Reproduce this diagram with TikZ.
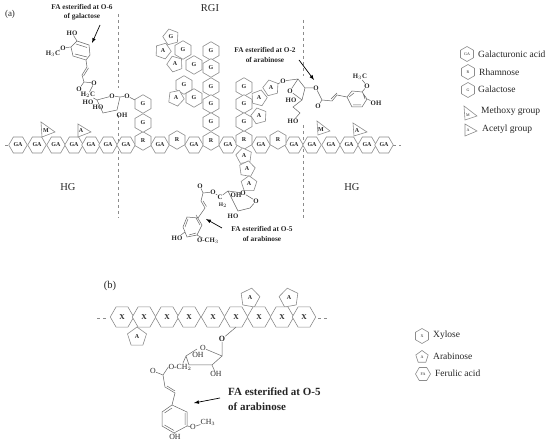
\documentclass[tikz,border=0pt]{standalone}
\usepackage{fontspec}
\setmainfont{Liberation Serif}
\usetikzlibrary{shapes.geometric}
\definecolor{ln}{gray}{0.55}
\definecolor{bd}{gray}{0.4}
\definecolor{tx}{gray}{0.15}
\tikzset{
 hexh/.style={regular polygon,regular polygon sides=6,draw=ln,fill=white,line width=.6pt,inner sep=0pt,outer sep=0pt,minimum size=18.5pt,font=\fontsize{6}{7}\selectfont\bfseries,text=tx},
 hexv/.style={hexh,shape border rotate=30},
 penta/.style={regular polygon,regular polygon sides=5,draw=ln,fill=white,line width=.6pt,inner sep=0pt,outer sep=0pt,minimum size=16.5pt,font=\fontsize{6}{7}\selectfont\bfseries,text=tx},
 xhex/.style={hexh,minimum size=23.5pt,font=\fontsize{7.5}{8}\selectfont\bfseries},
 bigpenta/.style={penta,minimum size=20pt},
 tri/.style={draw=ln,line width=.6pt,fill=white},
 bond/.style={draw=bd,line width=.5pt},
 chem/.style={inner sep=0pt,font=\fontsize{6.8}{7}\selectfont\bfseries,text=tx},
 chemb/.style={inner sep=0pt,font=\fontsize{7.8}{8}\selectfont,text=tx},
 lab/.style={inner sep=0pt,font=\fontsize{7.3}{9.2}\selectfont\bfseries,text=tx,align=center},
 big/.style={inner sep=0pt,font=\fontsize{10.5}{11}\selectfont,text=tx},
 leg/.style={inner sep=0pt,anchor=west,font=\fontsize{9.5}{10}\selectfont,text=tx},
 legsym/.style={minimum size=15pt,font=\fontsize{4}{5}\selectfont},
 arr/.style={draw=black,line width=.7pt,-latex},
 sep/.style={draw=ln,line width=.6pt,dashed},
}
\begin{document}
\begin{tikzpicture}[x=1pt,y=-1pt]
\useasboundingbox (0,0) rectangle (550,446);
% dashed borders
\coordinate (d1a) at (118,14); \coordinate (d1b) at (118,88);
\coordinate (d1c) at (118,115); \coordinate (d1d) at (118,218);
\coordinate (d2a) at (303,20); \coordinate (d2b) at (303,76);
\coordinate (d2c) at (303,125); \coordinate (d2d) at (303,218);
\draw[sep] (d1a)--(d1b) (d1c)--(d1d) (d2a)--(d2b) (d2c)--(d2d);
\coordinate (la) at (5,145); \coordinate (lb) at (9,145);
\coordinate (ra) at (393,145); \coordinate (rb) at (401,145);
\draw[sep] (la)--(lb) (ra)--(rb);
% GA backbone
\foreach \n/\x/\t in {a1/18/GA,a2/37/GA,a3/56/GA,a4/74/GA,a5/91/GA,a6/108/GA,a7/126/GA,a8/160/GA,a9/194/GA,a10/228/GA,a11/261/GA,a12/294/GA,a13/312/GA,a14/331/GA,a15/349/GA,a16/367/GA,a17/384/GA}
  \node[hexh] (\n) at (\x,145) {\t};
\foreach \n/\x/\y/\t in {r1/143/141/R,r2/177/140/R,r3/211/141/R,r4/244/140/R,r5/278/140/R,
 g1/143/104/G,g2/143/123/G,g3/211/51/G,g4/211/68/G,g5/211/87/G,g6/211/104/G,g7/211/122/G,
 g8/244/87/G,g9/244/104/G,g10/244/122/G,
 c1/183/50/G,c2/194/65/G,c3/184/85/G,c4/194/98/G}
  \node[hexv] (\n) at (\x,\y) {\t};
\foreach \n/\x/\y/\t/\r in {p1/171/37/G/15,p2/163/51/A/-20,p3/175/64/A/20,p4/176/98/A/-25,
 p5/271/88/A/15,p6/259/98/A/-15,p7/259/116/A/15,p8/244/156/A/10,p9/247/169/A/-10,p10/249/184/A/0}
  \node[penta,shape border rotate=\r] (\n) at (\x,\y) {\t};
% triangles
\draw[tri] (41,122)--(55,132)--(42,137)--cycle;
\draw[tri] (78,124)--(91,132)--(78,137)--cycle;
\draw[tri] (317,121)--(330,131)--(318,135)--cycle;
\draw[tri] (353,123)--(367,132)--(354,136)--cycle;
\node[chem,font=\fontsize{6}{7}\selectfont\bfseries] (tm1) at (46,131) {M};
\node[chem,font=\fontsize{6}{7}\selectfont\bfseries] (ta1) at (81,131) {A};
\node[chem,font=\fontsize{6}{7}\selectfont\bfseries] (tm2) at (321,130) {M};
\node[chem,font=\fontsize{6}{7}\selectfont\bfseries] (ta2) at (357,131) {A};
% FA left (O-6 galactose)
\node[chem] (l1) at (72,33) {HO};
\node[chem] (l2) at (63,48) {O};
\node[chem] (l3) at (53,54) {H$_3$C};
\node[chem] (l4) at (94,83) {O};
\node[chem] (l5) at (79,89) {O};
\node[chem] (l6) at (88,95) {H$_2$C};
\node[chem] (l7) at (88,102) {HO};
\node[chem] (l8) at (98,107) {HO};
\node[chem] (l9) at (112,96) {O};
\node[chem] (l10) at (122,115) {OH};
\node[chem] (l11) at (127,96) {O};
\draw[bond] (l1)--(77,41)--(89,45)--(90,55)--(86,60)--(73,56)--(71,47)--(77,41)
 (76,44)--(87,47.5) (87,57)--(75,54)
 (71,47)--(l2) (l2)--(l3)
 (86,60)--(87,67)--(82,75)--(84,82)--(l4) (84,82)--(l5) (88.5,68)--(83.5,76)
 (l4)--(l6) (l6)--(97,100)--(l9) (l9)--(120,97)--(117,110)--(103,113)--(97,100)
 (120,97)--(l11) (l11)--(g1);
% FA right (O-2 arabinose)
\node[chem] (n1) at (360,77) {H$_3$C};
\node[chem] (n2) at (367,86) {O};
\node[chem] (n3) at (376,103) {OH};
\node[chem] (n4) at (316,88) {O};
\node[chem] (n5) at (318,106) {O};
\node[chem] (n6) at (283,81) {O};
\node[chem] (n7) at (290,91) {O};
\node[chem] (n8) at (291,100) {HO};
\node[chem] (n9) at (293,121) {HO};
\draw[bond] (n1)--(n2) (n2)--(362,92)--(352,91)--(347,97)--(352,107)--(362,107)--(367,99)--(362,92)
 (354,93)--(349,97) (353,105)--(361,105) (363,93)--(365,99)
 (367,99)--(n3) (347,97)--(337,95)--(332,101)--(322,100)--(n4) (322,100)--(n5) (337,93)--(331,99)
 (n4)--(305,88)--(298,79)--(n6) (298,79)--(n7) (n7)--(302,100)--(305,88)
 (302,100)--(293,107)--(300,113)--(n9) (n6)--(p5);
% FA bottom (O-5 arabinose)
\node[chem] (b1) at (200,186) {O};
\node[chem] (b2) at (213,192) {O};
\node[chem] (b3) at (220,197) {C};
\node[chem,font=\fontsize{5.5}{6}\selectfont\bfseries] (b3b) at (223,205) {H$_2$};
\node[chem] (b4) at (236,195) {OH};
\node[chem] (b5) at (243,193) {O};
\node[chem] (b6) at (256,201) {O};
\node[chem] (b7) at (233,216) {HO};
\node[chem] (b8) at (177,238) {HO};
\node[chem] (b9) at (208,241) {O-CH$_3$};
\draw[bond] (b1)--(203,193)--(b2) (b2)--(b3) (b3)--(228,191)--(238,211)--(250,208)--(b6) (b6)--(b5)--(228,191)
 (203,193)--(201,201)--(205,208)--(198,218) (203,201)--(206.5,206.5)
 (198,218)--(187,217)--(183,227)--(187,237)--(197,235)--(202,225)--(196,215)
 (188,219)--(185,227) (189,235)--(196,233) (200,225)--(196,218)
 (b5)--(p10) (185,232)--(b8) (197,235)--(b9);
% labels a
\node[big,font=\fontsize{9}{10}\selectfont] (ta) at (10,14) {(a)};
\node[big] (t1) at (68,187) {HG};
\node[big] (t2) at (352,187) {HG};
\node[big] (t3) at (210,8) {RGI};
\node[lab] (f1) at (82,12.5) {FA esterified at O-6\\of galactose};
\node[lab] (f2) at (265,55) {FA esterified at O-2\\of arabinose};
\node[lab] (f3) at (262,234) {FA esterified at O-5\\of arabinose};
\coordinate (f1e) at (92,43); \coordinate (f1s) at (100,25);
\coordinate (f2e) at (314,80); \coordinate (f2s) at (299,60);
\coordinate (f3e) at (206,219); \coordinate (f3s) at (222,228);
\draw[arr] (f1s)--(f1e); \draw[arr] (f2s)--(f2e); \draw[arr] (f3s)--(f3e);
% legend a
\node[hexv,legsym] (lg1) at (467,54) {GA};
\node[hexv,legsym] (lg2) at (468,72) {R};
\node[hexv,legsym] (lg3) at (468,90) {G};
\draw[tri] (464,106)--(477,116)--(465,120)--cycle;
\draw[tri] (465,124)--(477,131)--(465,136)--cycle;
\node[chem,font=\fontsize{4}{5}\selectfont] (lg4) at (468,115) {M};
\node[chem,font=\fontsize{4}{5}\selectfont] (lg5) at (468,130) {A};
\node[leg] (lt1) at (478,54) {Galacturonic acid};
\node[leg] (lt2) at (479,72) {Rhamnose};
\node[leg] (lt3) at (478,89) {Galactose};
\node[leg] (lt4) at (481,111) {Methoxy group};
\node[leg] (lt5) at (482,129) {Acetyl group};
% part b
\node[big] (tb) at (110,286) {(b)};
\coordinate (xa) at (97,318); \coordinate (xb) at (108,318);
\coordinate (xc) at (318,318); \coordinate (xd) at (329,318);
\draw[sep] (xa)--(xb) (xc)--(xd);
\foreach \n/\x/\y/\r in {q1/137/337/0,q2/250/298/-10,q3/289/298/10}
  \node[bigpenta,shape border rotate=\r] (\n) at (\x,\y) {A};
\foreach \n/\x in {x1/122,x2/144,x3/167,x4/189,x5/213,x6/236,x7/259,x8/282,x9/304}
  \node[xhex] (\n) at (\x,317) {X};
\node[chem,font=\fontsize{8}{8}\selectfont\bfseries] (s1) at (222,339) {O};
\node[chemb] (s2) at (203,348) {O};
\node[chemb] (s3) at (198,355) {OH};
\node[chemb] (s4) at (216,374) {OH};
\node[chemb] (s5) at (180,367) {O-CH$_2$};
\node[chemb] (s6) at (153,371) {O};
\node[chemb] (s7) at (193,427) {O};
\node[chemb] (s8) at (208,422) {CH$_3$};
\node[chemb] (s9) at (175,437) {OH};
\draw[bond] (x6.south)--(s1) (s1)--(222,356)--(s2) (222,356)--(212,365)--(189,365)--(186,356)--(197,349)
 (186,356)--(183,363) (212,365)--(s4)
 (s5.west)--(163,375)--(s6) (163,375)--(165,387)--(175,393)--(172,405)--(187,412)--(187,426)--(174,433)--(162,426)--(162,412)--(172,405)
 (167,386)--(175,391) (172,408)--(164.5,413) (164.5,425)--(174,430.5) (185,413)--(185,425)
 (187,426)--(s7) (s7)--(s8) (174,433)--(s9);
\coordinate (be) at (194,403); \coordinate (bs) at (220,398);
\draw[arr] (bs)--(be);
\node[inner sep=0pt,anchor=west,font=\fontsize{11}{12}\selectfont\bfseries,text=tx] (bt1) at (228,392) {FA esterified at O-5};
\node[inner sep=0pt,anchor=west,font=\fontsize{11}{12}\selectfont\bfseries,text=tx] (bt2) at (228,407) {of arabinose};
% legend b
\node[hexv,legsym] (ly1) at (422,336) {X};
\node[penta,legsym,minimum size=13pt] (ly2) at (422,357) {A};
\node[hexh,legsym] (ly3) at (423,374) {FA};
\node[leg] (lz1) at (433,335) {Xylose};
\node[leg] (lz2) at (433,356) {Arabinose};
\node[leg] (lz3) at (435,373) {Ferulic acid};
\end{tikzpicture}
\end{document}
